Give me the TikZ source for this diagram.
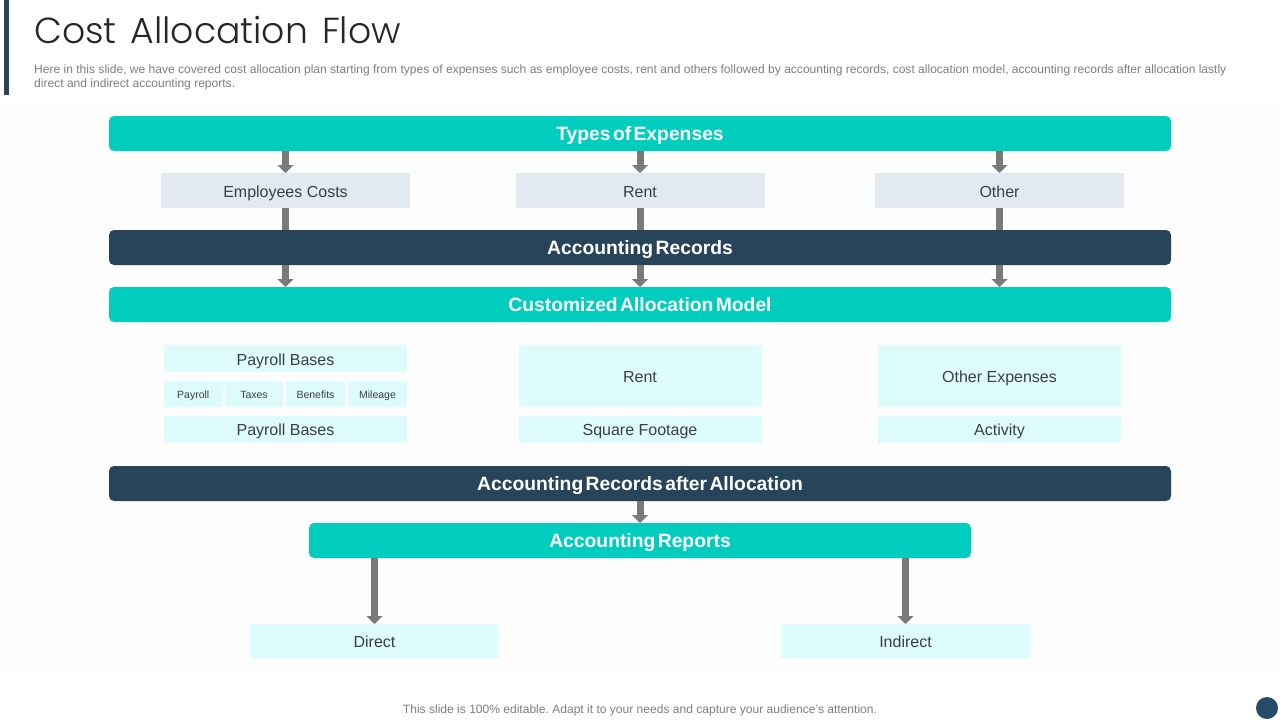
\documentclass[tikz,border=0pt]{standalone}
\usepackage{fontspec}
\setmainfont{Liberation Sans}
\newfontfamily\titlefont{Poppins Light}
\usetikzlibrary{arrows.meta}
\definecolor{tealbar}{HTML}{00CDBE}
\definecolor{darkbar}{HTML}{28445A}
\definecolor{greybox}{HTML}{E3E9F1}
\definecolor{lightbox}{HTML}{DFFCFC}
\definecolor{flowgrey}{HTML}{7A7A7A}
\definecolor{notegrey}{HTML}{7F7F7F}
\definecolor{labelgrey}{HTML}{3A3F45}
\definecolor{dotblue}{HTML}{264B68}
\newskip\barspace
\barspace=2.4pt
\newskip\titlespace
\titlespace=14pt
\def\tightbar{\spaceskip\barspace\relax}
\def\widetitle{\spaceskip\titlespace\relax}
\tikzset{
	bar/.style={rounded corners=5pt, inner sep=0pt, outer sep=0pt, minimum height=35pt, text=white,
		text height=13.5pt, text depth=0pt, font=\bfseries\fontsize{19.3}{24}\selectfont\tightbar},
	tealrow/.style={bar, fill=tealbar, minimum width=1062pt},
	darkrow/.style={bar, fill=darkbar, minimum width=1062pt},
	greyrow/.style={fill=greybox, inner sep=0pt, outer sep=0pt, minimum width=249pt, minimum height=35pt,
		text=labelgrey, text height=13pt, text depth=0pt, font=\fontsize{16}{19}\selectfont},
	lightrow/.style={fill=lightbox, inner sep=0pt, outer sep=0pt, minimum width=243pt, minimum height=27pt,
		text=labelgrey, text height=13pt, text depth=0pt, font=\fontsize{16}{19}\selectfont},
	tinyrow/.style={lightrow, minimum width=58.5pt, minimum height=26pt, text height=8pt, font=\fontsize{10.5}{12}\selectfont},
	flowline/.style={draw=flowgrey, line width=7pt},
	flowarrow/.style={flowline, -{Triangle[length=8pt,width=16pt]}},
	note/.style={text=notegrey, inner sep=0pt, font=\fontsize{12.05}{14}\selectfont\frenchspacing}
}

\begin{document}
\begin{tikzpicture}[x=1pt, y=-1pt]
		%%%%% START %%%%%
		
		\useasboundingbox (0, 0) rectangle (1280, 720);
		\fill[white] (0, 0) rectangle (1280, 720);
		\fill[black!0.6] (0, 102) rectangle (1280, 670);
		
		% heading
		\fill[darkbar] (4, 0) rectangle (9, 95);
		\node[anchor=base west, inner sep=0pt, text=black!85, font=\titlefont\fontsize{36.2}{44}\selectfont\widetitle] (title) at (34, 43) {Cost Allocation Flow};
		\node[note, anchor=north west, align=left] (intro) at (34, 65) {Here in this slide, we have covered cost allocation plan starting from types of expenses such as employee costs, rent and others  followed by accounting records, cost allocation model, accounting records after allocation lastly\\direct and indirect accounting reports.};
		
		% rows
		\node[tealrow] (types) at (640, 133.5) {Types of Expenses};
		\node[greyrow] (employees) at (285.5, 190.5) {Employees Costs};
		\node[greyrow] (rentcost) at (640, 190.5) {Rent};
		\node[greyrow] (other) at (999.5, 190.5) {Other};
		\node[darkrow] (records) at (640, 247.5) {Accounting Records};
		\node[tealrow] (model) at (640, 304.5) {Customized Allocation Model};
		
		% payroll column
		\node[lightrow] (payroll) at (285.5, 358.5) {Payroll Bases};
		\node[tinyrow] (pay) at (193.25, 394) {Payroll};
		\node[tinyrow] (taxes) at (254, 394) {Taxes};
		\node[tinyrow] (benefits) at (315.5, 394) {Benefits};
		\node[tinyrow] (mileage) at (377.5, 394) {Mileage};
		\node[lightrow] (payrollbases) at (285.5, 429) {Payroll Bases};
		
		% rent column
		\node[lightrow, minimum height=62pt] (rentbox) at (640, 376) {Rent};
		\node[lightrow] (footage) at (640, 429) {Square Footage};
		
		% other column
		\node[lightrow, minimum height=62pt] (expenses) at (999.5, 376) {Other Expenses};
		\node[lightrow] (activity) at (999.5, 429) {Activity};
		
		\node[darkrow] (after) at (640, 483.5) {Accounting Records after Allocation};
		\node[tealrow, minimum width=662pt] (reports) at (640, 540.5) {Accounting Reports};
		\node[greyrow, fill=lightbox, minimum height=34pt] (direct) at (374.5, 641) {Direct};
		\node[greyrow, fill=lightbox, minimum height=34pt] (indirect) at (905.5, 641) {Indirect};
		
		% connectors
		\foreach \col in {employees, rentcost, other} {
			\draw[flowarrow] (\col.north |- types.south) -- (\col.north);
			\draw[flowline] (\col.south) -- (\col.south |- records.north);
			\draw[flowarrow] (\col.south |- records.south) -- (\col.south |- model.north);
		}
		\draw[flowarrow] (after.south) -- (reports.north);
		\draw[flowarrow] (direct.north |- reports.south) -- (direct.north);
		\draw[flowarrow] (indirect.north |- reports.south) -- (indirect.north);
		
		% foot of the slide
		\node[note] (footer) at (640, 710) {This slide is 100\% editable. Adapt it to your needs and capture your audience's attention.};
		\node[circle, fill=dotblue, minimum size=22pt, inner sep=0pt] (pagedot) at (1267, 708) {};
		
		%%%%% END %%%%%
	\end{tikzpicture}
\end{document}
